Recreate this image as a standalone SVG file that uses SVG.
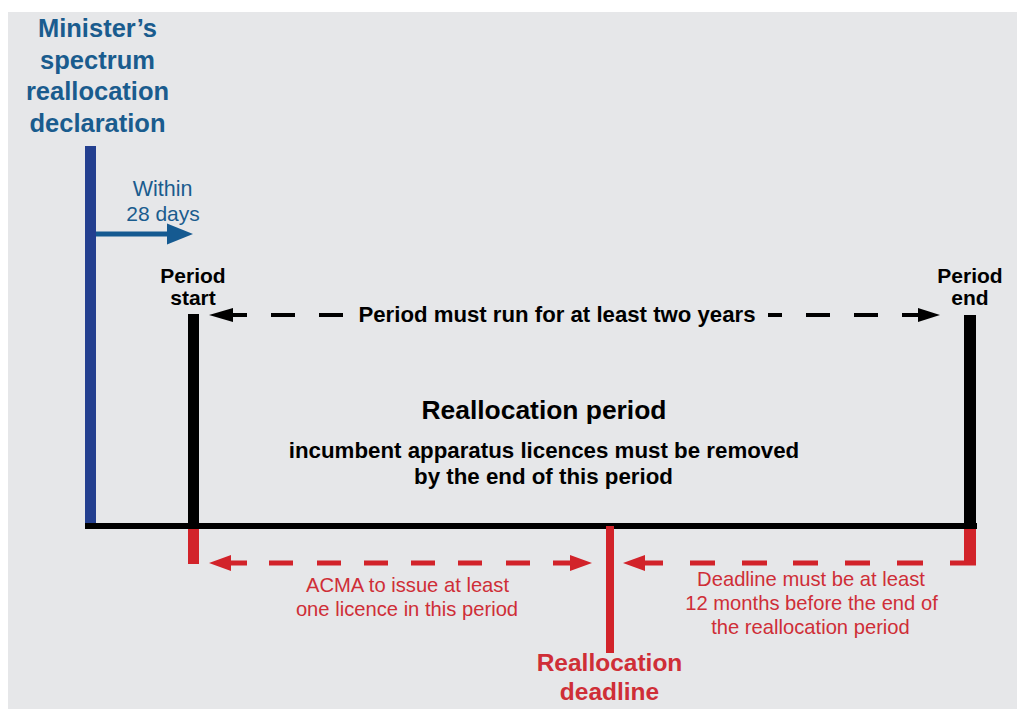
<svg xmlns="http://www.w3.org/2000/svg" width="1017" height="709" viewBox="0 0 1017 709">
  <style>
    text { font-family: "Liberation Sans", Arial, sans-serif; text-anchor: middle; }
    .b { font-weight: bold; }
    .blue { fill: #1a5c8e; }
    .red { fill: #cf2e37; }
    .blk { fill: #000; }
    .dashB { stroke: #000; stroke-width: 4; fill: none; }
    .dashR { stroke: #d2232a; stroke-width: 5; fill: none; }
  </style>
  <rect x="0" y="0" width="1017" height="709" fill="#ffffff"/>
  <rect x="8" y="12" width="1009" height="697" fill="#e6e7e9"/>

  <g id="declaration">
    <rect x="85" y="146" width="11" height="378" fill="#233f8f"/>
    <text class="b blue" font-size="25.5" x="97.5" y="37">Minister’s</text>
    <text class="b blue" font-size="25.5" x="97.5" y="68.5">spectrum</text>
    <text class="b blue" font-size="25.5" x="97.5" y="100">reallocation</text>
    <text class="b blue" font-size="25.5" x="97.5" y="131.5">declaration</text>
  </g>

  <g id="timeline">
    <rect x="85" y="523" width="892" height="6" fill="#000"/>
  </g>

  <g id="period-start">
    <rect x="188" y="314" width="11" height="212" fill="#000"/>
    <rect x="188" y="529" width="11" height="35" fill="#d2232a"/>
    <text class="b blk" font-size="21" x="193" y="283">Period</text>
    <text class="b blk" font-size="21" x="193" y="305">start</text>
  </g>

  <g id="period-end">
    <rect x="964" y="315" width="12" height="211" fill="#000"/>
    <rect x="964" y="529" width="12" height="36" fill="#d2232a"/>
    <text class="b blk" font-size="21" x="970" y="283">Period</text>
    <text class="b blk" font-size="21" x="970" y="305">end</text>
  </g>

  <g id="reallocation-period">
    <text class="b blk" font-size="26.4" x="544" y="419">Reallocation period</text>
    <text class="b blk" font-size="22.3" x="544" y="458">incumbent apparatus licences must be removed</text>
    <text class="b blk" font-size="22.3" x="543.5" y="484">by the end of this period</text>
  </g>

  <g id="reallocation-deadline">
    <rect x="606" y="526" width="8" height="127" fill="#d2232a"/>
    <text class="b red" font-size="24.5" x="609.5" y="671">Reallocation</text>
    <text class="b red" font-size="24.5" x="609.5" y="700">deadline</text>
  </g>

  <g id="connectors">
    <!-- within 28 days -->
    <rect x="96" y="231.5" width="72" height="5" fill="#155a91"/>
    <polygon points="193,234 167,223.5 167,244.5" fill="#155a91"/>
    <text class="blue" font-size="21.5" x="162.5" y="196">Within</text>
    <text class="blue" font-size="21" x="163" y="221">28 days</text>

    <!-- period must run -->
    <polygon points="209,315 233,308 233,322" fill="#000"/>
    <path class="dashB" d="M232,315 H247 M271,315 H295 M319,315 H343 M768,315 H782 M806,315 H830 M854,315 H878 M902,315 H920"/>
    <polygon points="940,315 918,308 918,322" fill="#000"/>
    <text class="b blk" font-size="22.2" x="557" y="322">Period must run for at least two years</text>

    <!-- ACMA -->
    <polygon points="209,563 231,555 231,571" fill="#d2232a"/>
    <path class="dashR" d="M230,563 H247 M269,563 H293 M317,563 H341 M364,563 H388 M411,563 H435 M458,563 H482 M506,563 H530 M553,563 H571"/>
    <polygon points="592,563 570,555 570,571" fill="#d2232a"/>
    <text class="red" font-size="20.2" x="407.5" y="592">ACMA to issue at least</text>
    <text class="red" font-size="20.2" x="407" y="616">one licence in this period</text>

    <!-- deadline before end -->
    <polygon points="623,563 645,555 645,571" fill="#d2232a"/>
    <path class="dashR" d="M644,563 H663 M690,563 H715 M742,563 H767 M793,563 H818 M845,563 H870 M897,563 H923 M950,563 H976"/>
    <text class="red" font-size="20.2" x="811" y="586">Deadline must be at least</text>
    <text class="red" font-size="20.2" x="811.5" y="610">12 months before the end of</text>
    <text class="red" font-size="20.2" x="810.5" y="634">the reallocation period</text>
  </g>
</svg>
